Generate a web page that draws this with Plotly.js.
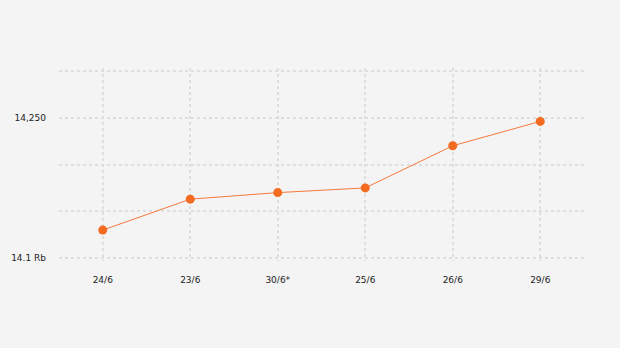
<!DOCTYPE html>
<html>
<head>
<meta charset="utf-8">
<script src="https://cdn.plot.ly/plotly-3.0.1.min.js"></script>
<style>html,body{margin:0;padding:0;background:#f4f4f4;}#chart{width:620px;height:348px;}</style>
</head>
<body>
<div id="chart"></div>
<script>
const categories = ["24/6", "23/6", "30/6*", "25/6", "26/6", "29/6"];
const values = [14130, 14163, 14170, 14175, 14220, 14246];
const yTickVals = [14100, 14150, 14200, 14250, 14300];
const yTickText = ["14.1 Rb", "", "", "14,250", ""];

const trace = {
  x: categories,
  y: values,
  type: "scatter",
  mode: "lines+markers",
  line: {color: "#f4793a", width: 1},
  marker: {color: "#f26b21", size: 9},
  hoverinfo: "none"
};

const layout = {
  width: 620,
  height: 348,
  paper_bgcolor: "#f4f4f4",
  plot_bgcolor: "#f4f4f4",
  margin: {l: 58.5, r: 36, t: 68, b: 87},
  showlegend: false,
  font: {family: "DejaVu Sans, sans-serif", size: 9, color: "#222"},
  xaxis: {
    type: "category",
    range: [-0.5, 5.5],
    showgrid: true,
    gridcolor: "#dedede",
    griddash: "3px,3px",
    gridwidth: 2,
    showline: false,
    zeroline: false,
    ticks: "",
    ticklabelstandoff: 12,
    tickfont: {size: 9, color: "#222"}
  },
  yaxis: {
    range: [14097, 14303],
    tickvals: yTickVals,
    ticktext: yTickText,
    showgrid: true,
    gridcolor: "#dedede",
    griddash: "3px,3px",
    gridwidth: 2,
    zeroline: false,
    showline: false,
    ticks: "",
    ticklabelstandoff: 12,
    tickfont: {size: 9, color: "#222"}
  }
};

Plotly.newPlot("chart", [trace], layout, {staticPlot: true, displayModeBar: false});
</script>
</body>
</html>
